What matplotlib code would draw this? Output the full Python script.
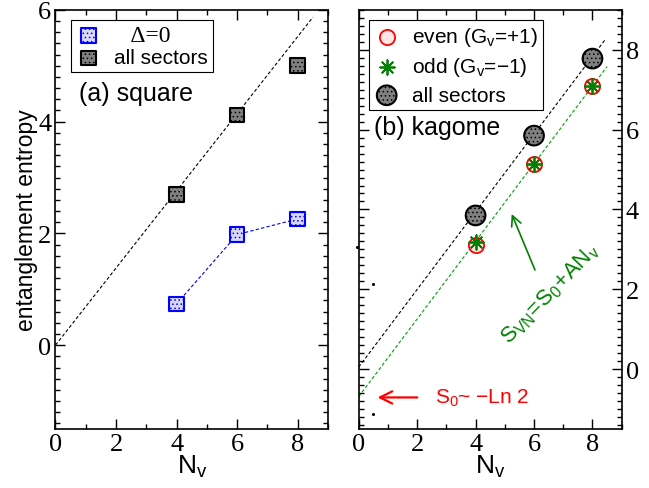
import matplotlib
matplotlib.use('Agg')
import matplotlib.pyplot as plt
from matplotlib.ticker import MultipleLocator

plt.rcParams['font.family'] = 'Liberation Sans'
plt.rcParams['mathtext.fontset'] = 'custom'
plt.rcParams['mathtext.rm'] = 'Liberation Sans'
plt.rcParams['mathtext.it'] = 'Liberation Sans'
plt.rcParams['hatch.linewidth'] = 0.6

# (a) square lattice
nv_sq = [4, 6, 8]
sq_delta0 = [0.74, 1.98, 2.26]
sq_all = [2.70, 4.12, 5.01]
sq_fit_x = [0, 8.5]
sq_fit_y = [0.0, 5.87]

# (b) kagome lattice
nv_kg = [4, 6, 8]
kg_even = [3.12, 5.14, 7.10]
kg_odd = [3.18, 5.14, 7.10]
kg_all = [3.85, 5.85, 7.78]
kg_fit_all_x = [0, 8.45]
kg_fit_all_y = [0.05, 8.27]
kg_fit_even_x = [0, 8.5]
kg_fit_even_y = [-0.69, 7.58]
stray_x = [-0.07, 0.5, 0.5]
stray_y = [3.06, 2.14, -1.13]

x_ticks = [0, 2, 4, 6, 8]
y_ticks_a = [0, 2, 4, 6]
y_ticks_b = [0, 2, 4, 6, 8]

tick_font = {'family': 'Liberation Serif', 'size': 19}


def style_axes(ax, ymax, yticks):
    ax.set_xlim(0, 9)
    ax.set_ylim(-1.5, ymax)
    ax.set_xticks(x_ticks, [str(v) for v in x_ticks], fontdict=tick_font)
    ax.set_yticks(yticks, [str(v) for v in yticks], fontdict=tick_font)
    ax.xaxis.set_minor_locator(MultipleLocator(1))
    ax.yaxis.set_minor_locator(MultipleLocator(0.2))
    ax.tick_params(which='both', direction='in', top=True, right=True, width=1)
    ax.tick_params(which='major', length=7, pad=3)
    ax.tick_params(which='minor', length=3.5)
    for sp in ax.spines.values():
        sp.set_linewidth(1.2)
    ax.set_xlabel('$\\mathregular{N_v}$', fontsize=19, labelpad=-2)


fig = plt.figure(figsize=(6.49, 4.89), dpi=100)
ax1 = fig.add_axes([0.0855, 0.1207, 0.42, 0.857])
ax2 = fig.add_axes([0.5527, 0.1207, 0.4052, 0.857])

# ---- panel (a)
ax1.plot(sq_fit_x, sq_fit_y, color='black', lw=0.8, dashes=(3, 2))
ax1.plot(nv_sq, sq_delta0, color='blue', lw=0.8, dashes=(3, 2))
h1 = ax1.scatter(nv_sq, sq_delta0, marker='s', s=110, facecolor='#d8d8ff',
                 edgecolor='blue', linewidth=1.5, hatch='....', zorder=3, label='   Δ=0')
h2 = ax1.scatter(nv_sq, sq_all, marker='s', s=110, facecolor='#808080',
                 edgecolor='black', linewidth=1.5, hatch='....', zorder=3, label='all sectors')
style_axes(ax1, 6, y_ticks_a)
ax1.set_ylabel('entanglement entropy', fontsize=16.5, labelpad=0)
leg1 = ax1.legend(handles=[h1, h2], loc='upper left', bbox_to_anchor=(0.057, 0.976),
                  borderaxespad=0, fancybox=False, edgecolor='black', fontsize=15,
                  handlelength=1.2, handletextpad=0.6, borderpad=0.25, labelspacing=0.1,
                  framealpha=1)
leg1.get_frame().set_linewidth(0.8)
leg1.get_texts()[0].set_fontfamily('Liberation Serif')
leg1.get_texts()[0].set_fontsize(17)
ax1.text(0.086, 0.802, '(a) square', transform=ax1.transAxes, fontsize=18,
         va='center', ha='left')

# ---- panel (b)
ax2.plot(kg_fit_all_x, kg_fit_all_y, color='black', lw=0.8, dashes=(3, 2))
ax2.plot(kg_fit_even_x, kg_fit_even_y, color='#00a000', lw=0.8, dashes=(3, 2))
e1 = ax2.scatter(nv_kg, kg_even, marker='o', s=120, facecolor='#ffe6e6',
                 edgecolor='red', linewidth=1.3, zorder=3, label='even (G$_\\mathregular{v}$=+1)')
e2 = ax2.scatter(nv_kg, kg_odd, marker=(8, 2, 0), s=110, color='green',
                 linewidth=1.3, zorder=4, label='odd (G$_\\mathregular{v}$=−1)')
e3 = ax2.scatter(nv_kg, kg_all, marker='o', s=200, facecolor='#808080',
                 edgecolor='black', linewidth=1.5, hatch='....', zorder=3, label='all sectors')
ax2.scatter(stray_x, stray_y, s=1.5, color='black', clip_on=False)
style_axes(ax2, 9, y_ticks_b)
ax2.tick_params(axis='y', which='both', labelleft=False, labelright=True)
leg2 = ax2.legend(handles=[e1, e2, e3], loc='upper left', bbox_to_anchor=(0.039, 0.976),
                  borderaxespad=0, fancybox=False, edgecolor='black', fontsize=15,
                  handlelength=1.2, handletextpad=0.6, borderpad=0.25, labelspacing=0.35,
                  framealpha=1)
leg2.get_frame().set_linewidth(0.8)
ax2.text(0.058, 0.72, '(b) kagome', transform=ax2.transAxes, fontsize=18,
         va='center', ha='left')

# arrows and annotations
ax2.annotate('', xy=(0.55, -0.71), xytext=(2.1, -0.71),
             arrowprops=dict(arrowstyle='->', color='red', lw=1.6, mutation_scale=22))
ax2.text(2.6, -0.71, '$\\mathregular{S_0}$~ −Ln 2', color='red', fontsize=15,
         va='center', ha='left')
ax2.annotate('', xy=(5.2, 3.95), xytext=(6.07, 2.42),
             arrowprops=dict(arrowstyle='->', color='green', lw=1.2, mutation_scale=18))
ax2.text(6.55, 1.9, '$\\mathregular{S_{VN}\\!=\\!S_0\\!+\\!AN_v}$', color='green',
         fontsize=16, rotation=46, rotation_mode='anchor', va='center', ha='center')

fig.savefig('out.png', dpi=100)
